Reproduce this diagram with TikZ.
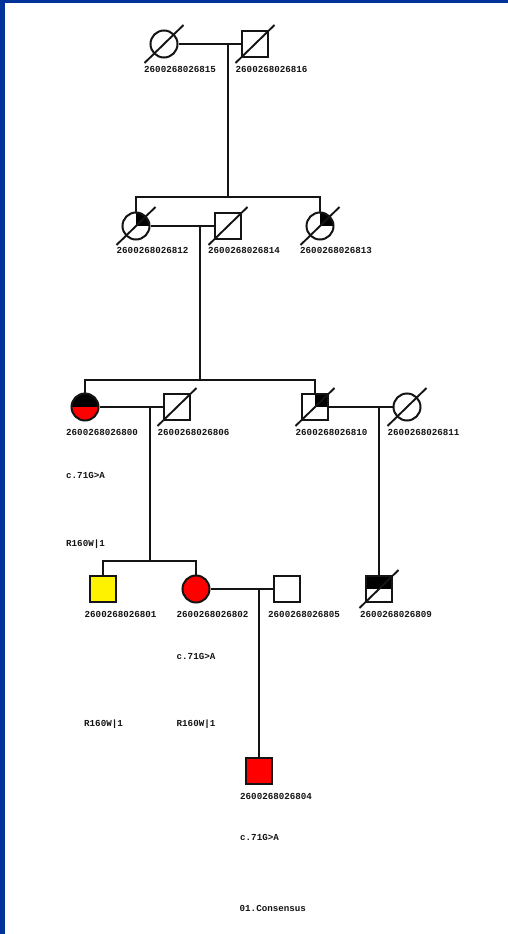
\documentclass[tikz,border=0pt]{standalone}
\usepackage{fontspec}
\newfontfamily\labfont{Liberation Mono}[BoldFont={* Bold}]
\usetikzlibrary{calc}
\definecolor{frameblue}{RGB}{0,51,153}
\definecolor{ink}{RGB}{20,20,20}
\tikzset{
  sym/.style={draw=ink, line width=2pt, inner sep=0pt, fill=white},
  female/.style={sym, circle, minimum size=27pt},
  male/.style={sym, rectangle, minimum size=25.5pt},
  quadUR/.style={path picture={\fill[black] (path picture bounding box.center) rectangle (path picture bounding box.north east);}},
  halfTop/.style={path picture={\fill[black] (path picture bounding box.west) rectangle (path picture bounding box.north east);}},
  link/.style={draw=ink, line width=2pt},
  slashline/.style={draw=ink, line width=1.9pt},
  lab/.style={anchor=west, inner sep=0pt, font=\labfont\bfseries\fontsize{9.2}{10}\selectfont, text=ink},
}
\newcommand\deadmark[1]{\draw[slashline] ([shift={(-19.5,19)}]#1.center) -- ([shift={(19.5,-19)}]#1.center);}
\begin{document}
\begin{tikzpicture}[x=1pt,y=-1pt]
\useasboundingbox (0,0) rectangle (508,934);
\fill[white] (0,0) rectangle (508,934);
\fill[frameblue] (0,0) rectangle (508,3.3);
\fill[frameblue] (0,0) rectangle (4.8,934);

% Generation 1
\node[female] (p815) at (164,44) {};
\node[male] (p816) at (255,44) {};
\node[lab] (l815) at (144,69) {2600268026815};
\node[lab] (l816) at (235.5,69) {2600268026816};

% Generation 2
\node[female, quadUR] (p812) at (136,226) {};
\node[male] (p814) at (228,226) {};
\node[female, quadUR] (p813) at (320,226) {};
\node[lab] (l812) at (116.5,250) {2600268026812};
\node[lab] (l814) at (208,250) {2600268026814};
\node[lab] (l813) at (300,250) {2600268026813};

% Generation 3
\node[female, fill=red, halfTop] (p800) at (85,407) {};
\node[male] (p806) at (177,407) {};
\node[male, quadUR] (p810) at (315,407) {};
\node[female] (p811) at (407,407) {};
\node[lab] (l800) at (66,432) {2600268026800};
\node[lab] (l806) at (157.5,432) {2600268026806};
\node[lab] (l810) at (295.5,432) {2600268026810};
\node[lab] (l811) at (387.5,432) {2600268026811};
\node[lab] (v800a) at (66,475) {c.71G>A};
\node[lab] (v800b) at (66,544) {R160W|1};

% Generation 4
\node[male, fill=yellow] (p801) at (103,589) {};
\node[female, fill=red] (p802) at (196,589) {};
\node[male] (p805) at (287,589) {};
\node[male, halfTop] (p809) at (379,589) {};
\node[lab] (l801) at (84.5,614) {2600268026801};
\node[lab] (l802) at (176.5,614) {2600268026802};
\node[lab] (l805) at (268,614) {2600268026805};
\node[lab] (l809) at (360,614) {2600268026809};
\node[lab] (v802a) at (176.5,656) {c.71G>A};
\node[lab] (v801b) at (84,724) {R160W|1};
\node[lab] (v802b) at (176.5,724) {R160W|1};

% Generation 5
\node[male, fill=red] (p804) at (259,771) {};
\node[lab] (l804) at (240,796) {2600268026804};
\node[lab] (v804a) at (240,837) {c.71G>A};
\node[lab] (cons) at (239.5,908) {01.Consensus};

% deceased marks
\deadmark{p815}
\deadmark{p816}
\deadmark{p812}
\deadmark{p814}
\deadmark{p813}
\deadmark{p806}
\deadmark{p810}
\deadmark{p811}
\deadmark{p809}

% coordinates
\coordinate (m1) at (228,44);
\coordinate (s2) at (228,197);
\coordinate (m2) at (200,226);
\coordinate (s3) at (200,380);
\coordinate (m3) at (150,407);
\coordinate (s4) at (150,561);
\coordinate (m3b) at (379,407);
\coordinate (m4) at (259,589);

% marriages and descent
\draw[link] (p815.east) -- (p816.west);
\draw[link] (m1) -- (s2);
\draw[link] (p812.north) -- (p812.north |- s2) -- (p813.north |- s2) -- (p813.north);

\draw[link] (p812.east) -- (p814.west);
\draw[link] (m2) -- (s3);
\draw[link] (p800.north) -- (p800.north |- s3) -- (p810.north |- s3) -- (p810.north);

\draw[link] (p800.east) -- (p806.west);
\draw[link] (m3) -- (s4);
\draw[link] (p801.north) -- (p801.north |- s4) -- (p802.north |- s4) -- (p802.north);

\draw[link] (p810.east) -- (p811.west);
\draw[link] (m3b) -- (m3b |- p809.north);

\draw[link] (p802.east) -- (p805.west);
\draw[link] (m4) -- (p804.north);
\end{tikzpicture}
\end{document}
